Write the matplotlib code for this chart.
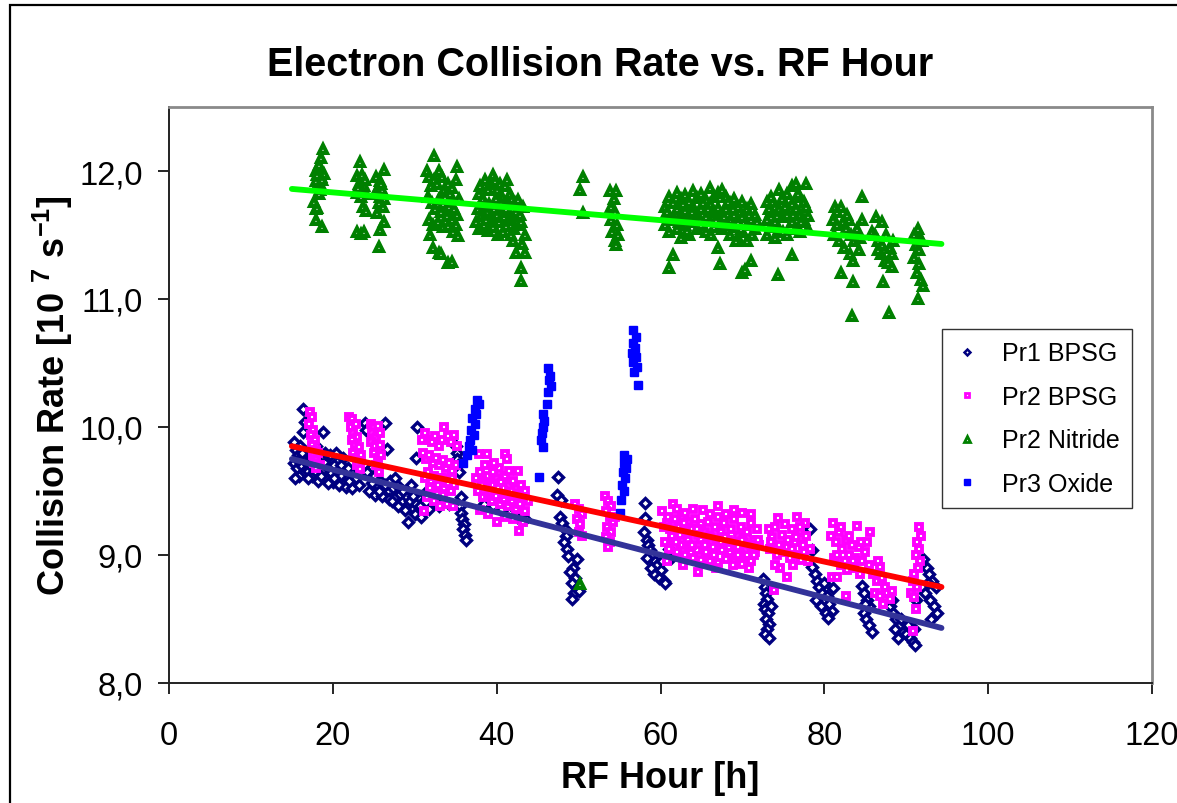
import matplotlib
matplotlib.use("Agg")
import matplotlib.pyplot as plt
from matplotlib.patches import Rectangle
from matplotlib.lines import Line2D
from matplotlib.ticker import FuncFormatter
import numpy as np

plt.rcParams['font.family'] = ['Liberation Sans', 'DejaVu Sans']
plt.rcParams['mathtext.fontset'] = 'custom'
plt.rcParams['mathtext.bf'] = 'Liberation Sans:bold'
plt.rcParams['mathtext.rm'] = 'Liberation Sans:bold'
plt.rcParams['mathtext.default'] = 'bf'

# ---------------- data (RF hour, collision rate [1e7 1/s]) ----------------
pr1_bpsg = [
    (16.4,10.14),(16.6,10.04),(16.4,9.96),(15.2,9.88),(15.5,9.82),(15.8,9.78),(16.0,9.85),(16.3,9.75),
    (16.7,9.80),(15.3,9.72),(15.6,9.68),(16.1,9.70),(16.5,9.65),(15.9,9.62),(15.4,9.60),(16.8,9.72),(17.0,9.66),
    (18.8,9.96),(17.3,9.78),(17.6,9.72),(18.0,9.75),(18.4,9.70),(18.7,9.66),(19.0,9.72),(19.4,9.68),(19.8,9.64),
    (20.2,9.70),(20.6,9.66),(21.0,9.62),(21.4,9.68),(21.8,9.60),(22.2,9.65),(22.6,9.56),(17.5,9.62),(18.2,9.58),
    (19.2,9.60),(20.0,9.57),(20.8,9.55),(21.6,9.53),(22.4,9.52),(19.6,9.78),(20.4,9.80),(21.2,9.76),
    (15.7,9.74),(16.2,9.80),(17.2,9.70),(17.8,9.66),(18.6,9.62),(19.4,9.56),(20.2,9.60),(21.0,9.70),(21.8,9.68),
    (22.0,9.58),(22.8,9.60),(23.2,9.55),(19.0,9.80),(18.0,9.85),(17.0,9.60),
    (23.9,10.03),(26.4,10.03),(24.1,9.98),(26.6,9.83),(23.8,9.70),(24.2,9.65),(24.6,9.60),(25.0,9.62),(25.4,9.55),
    (25.8,9.58),(26.2,9.52),(26.8,9.50),(24.4,9.50),(25.2,9.47),(26.0,9.46),
    (24.8,9.56),(25.6,9.50),(26.4,9.55),(27.6,9.45),(28.4,9.42),(29.0,9.38),(29.8,9.36),(30.4,9.45),(28.0,9.52),(26.9,9.44),
    (27.0,9.58),(27.4,9.52),(27.8,9.55),(28.2,9.48),(28.6,9.50),(29.0,9.45),(29.4,9.42),(29.8,9.46),(30.2,9.40),
    (30.6,9.38),(27.2,9.42),(28.0,9.38),(28.8,9.35),(29.2,9.26),(30.0,9.32),(30.8,9.30),(30.3,10.00),(30.2,9.76),
    (27.6,9.60),(29.6,9.55),
    (31.5,9.50),(32.0,9.45),(32.8,9.48),(33.5,9.42),(34.2,9.40),(31.8,9.36),(33.0,9.38),
    (35.0,9.85),(35.1,9.80),(35.2,9.75),(35.3,9.70),(35.4,9.65),(35.5,9.38),(35.6,9.33),(35.8,9.28),(36.0,9.24),
    (35.9,9.20),(36.1,9.16),(36.3,9.12),(35.7,9.45),
    (38.5,9.40),(39.5,9.38),(40.5,9.35),(41.5,9.33),(42.5,9.30),(43.5,9.28),
    (47.5,9.61),(47.4,9.47),(47.8,9.43),(47.7,9.30),(48.0,9.25),(48.3,9.20),(48.5,9.15),(48.2,9.10),(48.6,9.05),
    (48.7,8.99),(49.8,8.97),(49.3,8.90),(49.0,8.87),(49.6,8.82),(49.2,8.78),(49.8,8.74),(49.5,8.70),(49.2,8.66),(50.0,8.72),
    (58.1,9.41),(58.1,9.29),(58.0,9.18),(58.3,9.12),(58.5,9.08),(58.7,9.04),(59.0,9.00),(59.3,8.95),(58.4,8.98),
    (59.6,8.92),(60.0,8.88),(59.2,8.85),(59.8,8.82),(60.4,8.80),(58.8,8.90),(60.6,8.78),(60.2,8.95),(61.0,9.05),(61.3,8.98),
    (72.5,8.81),(72.7,8.75),(72.9,8.70),(73.0,8.66),(72.6,8.62),(72.8,8.58),(73.1,8.55),(72.9,8.50),(73.2,8.46),
    (73.0,8.42),(72.8,8.38),(73.3,8.35),(73.5,8.60),
    (78.5,8.91),(78.8,8.85),(79.1,8.80),(79.4,8.75),(79.7,8.70),(80.0,8.78),(80.3,8.68),(80.6,8.62),(80.9,8.56),
    (79.0,8.65),(79.6,8.60),(80.2,8.55),(81.0,8.74),(78.3,9.20),(78.5,9.04),(80.5,8.51),
    (84.6,8.76),(84.9,8.70),(85.2,8.65),(85.5,8.60),(84.8,8.55),(85.1,8.50),(85.4,8.45),(85.8,8.40),(85.0,8.62),
    (88.0,8.60),(88.4,8.55),(88.8,8.50),(89.2,8.45),(89.6,8.40),(90.0,8.38),(90.4,8.35),(90.8,8.32),(91.1,8.30),
    (88.6,8.42),(89.4,8.50),(90.2,8.45),(90.9,8.42),(89.0,8.35),(91.2,8.65),(88.2,8.65),
    (92.0,8.97),(92.5,8.90),(92.8,8.85),(93.2,8.80),(93.6,8.75),(92.3,8.70),(92.9,8.65),(93.4,8.60),(93.7,8.55),
    (93.0,8.50),(92.6,8.78),
]

pr2_bpsg = [
    (17.2,10.12),(17.5,10.08),(17.1,10.02),(17.6,9.98),(17.3,9.94),(17.8,9.90),(17.4,9.86),(17.9,9.82),(17.6,9.78),
    (18.0,9.75),(17.7,9.72),(18.2,9.80),(18.4,9.70),(17.9,9.68),
    (22.0,10.08),(22.4,10.06),(22.2,10.00),(22.8,10.02),(22.5,9.95),(23.0,9.92),(22.3,9.90),(22.7,9.86),(23.2,9.84),
    (22.5,9.80),(23.0,9.76),(23.4,9.78),(22.9,9.70),(23.3,9.67),
    (24.6,10.02),(25.0,10.00),(25.5,10.01),(24.8,9.95),(25.3,9.92),(25.8,9.95),(24.7,9.88),(25.2,9.85),(25.7,9.86),
    (25.0,9.80),(25.5,9.76),(25.9,9.78),(25.3,9.70),(25.6,9.65),
    (30.9,9.90),(31.3,9.95),(31.7,9.90),(32.1,9.88),(32.5,9.93),(32.9,9.85),(33.3,9.90),(33.6,10.00),(34.0,9.93),
    (34.4,9.88),(34.8,9.94),(35.1,9.85),(31.0,9.80),(31.4,9.75),(31.8,9.78),(32.2,9.72),(32.6,9.76),(33.0,9.70),
    (33.4,9.74),(33.8,9.68),(34.2,9.72),(34.6,9.66),(35.0,9.70),(31.2,9.60),(31.6,9.65),(32.0,9.58),(32.4,9.62),
    (32.8,9.55),(33.2,9.60),(33.6,9.52),(34.0,9.56),(34.4,9.50),(34.8,9.55),(31.5,9.45),(32.3,9.42),(33.1,9.38),
    (33.9,9.40),(34.7,9.38),(31.1,9.34),(33.5,9.47),(31.9,9.52),(32.7,9.48),(33.7,9.60),(34.5,9.60),
    (37.8,9.79),(38.8,9.79),(41.0,9.79),(41.3,9.75),(37.5,9.60),(38.0,9.65),(38.5,9.58),(39.0,9.62),(39.5,9.55),
    (40.0,9.60),(40.5,9.57),(41.0,9.62),(41.5,9.55),(42.0,9.58),(42.5,9.52),(43.0,9.55),(43.5,9.50),(37.7,9.50),
    (38.3,9.45),(38.9,9.48),(39.4,9.42),(39.9,9.46),(40.4,9.40),(40.9,9.44),(41.4,9.38),(41.9,9.42),(42.4,9.36),
    (42.9,9.40),(43.4,9.34),(43.8,9.42),(38.0,9.35),(39.0,9.32),(40.0,9.26),(41.0,9.30),(42.0,9.28),(42.7,9.19),
    (43.2,9.26),(38.6,9.70),(40.3,9.68),(42.6,9.66),(39.7,9.72),
    (38.2,9.55),(39.2,9.50),(40.2,9.52),(41.2,9.48),(42.2,9.46),(43.2,9.45),(39.5,9.65),(41.5,9.66),
    (49.6,9.40),(50.0,9.36),(50.4,9.32),(49.8,9.28),(50.2,9.24),(50.0,9.18),(50.4,9.15),
    (53.2,9.46),(53.6,9.42),(54.0,9.38),(53.4,9.34),(53.8,9.30),(54.2,9.26),(53.5,9.22),(54.0,9.18),(53.3,9.14),
    (53.8,9.10),(53.6,9.06),(54.5,9.30),
    (61.5,9.40),(60.2,9.34),(60.8,9.25),(61.2,9.20),(61.8,9.28),(62.2,9.22),(62.6,9.30),(63.0,9.18),(63.4,9.26),
    (63.8,9.20),(64.2,9.28),(64.6,9.16),(65.0,9.24),(65.4,9.18),(65.8,9.26),(66.2,9.14),(66.6,9.22),(67.0,9.30),
    (67.4,9.18),(67.8,9.25),(68.2,9.12),(68.6,9.20),(69.0,9.28),(69.4,9.15),(69.8,9.22),(70.2,9.10),(70.6,9.18),
    (71.0,9.25),(71.4,9.12),(71.8,9.20),(72.0,9.08),
    (60.5,9.10),(61.0,9.05),(61.6,9.12),(62.0,9.02),(62.5,9.08),(63.0,9.00),(63.5,9.06),(64.0,8.98),(64.5,9.04),
    (65.0,8.96),(65.5,9.02),(66.0,8.95),(66.5,9.00),(67.0,8.94),(67.5,9.04),(68.0,8.97),(68.5,9.02),(69.0,8.95),
    (69.5,9.00),(70.0,8.93),(70.5,9.00),(71.0,8.95),(71.5,9.02),(60.8,8.95),(62.8,8.92),(64.6,8.87),(66.8,8.90),
    (68.8,8.92),(70.8,8.90),(65.2,9.35),(68.0,9.32),(70.0,9.33),(62.0,9.36),
    (60.4,9.22),(60.9,9.30),(61.4,9.15),(61.9,9.10),(62.4,9.16),(62.9,9.25),(63.4,9.12),(63.9,9.08),(64.4,9.20),
    (64.9,9.12),(65.4,9.08),(65.9,9.15),(66.4,9.06),(66.9,9.12),(67.4,9.10),(67.9,9.14),(68.4,9.06),(68.9,9.10),
    (69.4,9.06),(69.9,9.12),(70.4,9.05),(70.9,9.08),(71.4,9.00),(71.9,9.12),(63.0,9.33),(64.0,9.36),(66.0,9.32),
    (67.0,9.38),(69.0,9.35),(71.0,9.32),
    (74.4,9.29),(76.7,9.30),(73.2,9.20),(73.6,9.14),(74.0,9.22),(74.8,9.16),(75.2,9.24),(75.6,9.12),(76.0,9.20),
    (76.4,9.10),(77.0,9.18),(77.4,9.08),(77.8,9.15),(78.2,9.05),(73.4,9.05),(74.2,9.00),(75.0,9.02),(75.8,8.98),
    (76.6,9.00),(77.2,8.96),(78.0,8.95),(75.5,8.83),(73.8,8.73),(74.6,8.90),(76.2,8.92),(77.6,9.25),
    (73.5,9.10),(74.5,9.08),(75.5,9.06),(76.5,9.14),(77.5,9.02),(74.0,8.92),(76.0,9.05),(77.0,9.22),
    (81.0,9.25),(84.0,9.23),(85.6,9.18),(80.8,9.15),(81.4,9.10),(81.8,9.18),(82.2,9.05),(82.6,9.12),(83.0,9.00),
    (83.4,9.08),(83.8,8.98),(84.2,9.06),(84.6,8.95),(85.0,9.02),(85.4,8.92),(81.2,8.98),(82.0,8.92),(82.8,8.88),
    (83.6,8.90),(80.9,8.83),(81.5,8.83),(82.7,8.68),(84.4,8.85),(85.2,9.10),
    (81.5,9.00),(82.5,8.95),(83.5,8.95),(84.5,9.10),(83.0,9.15),(82.0,9.22),
    (86.8,8.91),(86.0,8.85),(86.4,8.80),(87.0,8.82),(87.4,8.75),(86.2,8.70),(86.8,8.68),(87.6,8.70),(88.0,8.66),
    (87.2,8.62),(88.3,8.72),(86.5,8.95),
    (91.5,9.22),(91.8,9.15),(91.3,9.10),(91.6,9.05),(91.2,9.00),(91.7,8.95),(91.4,8.90),(91.0,8.85),(90.8,8.80),
    (91.3,8.75),(90.6,8.70),(91.0,8.67),(91.2,8.58),(90.8,8.41),
]

pr2_nitride = [
    (17.7,11.76),(17.9,11.70),(18.0,11.62),(18.1,11.71),(18.7,11.56),(18.0,12.00),(18.3,12.05),(18.8,12.17),
    (18.5,11.95),(18.2,11.90),(18.6,11.88),(18.0,11.92),(18.9,11.98),(18.4,11.85),(18.1,11.97),(18.7,11.93),
    (18.3,11.82),(18.6,12.10),
    (23.3,12.07),(22.9,11.96),(23.6,11.97),(23.2,11.90),(23.8,11.88),(23.5,11.85),(24.0,11.82),(23.0,11.83),
    (23.4,11.80),(23.7,11.72),(24.0,11.69),(22.9,11.52),(23.4,11.51),(23.8,11.52),(23.1,11.87),(23.9,11.93),
    (26.2,12.01),(25.3,11.95),(25.7,11.92),(25.5,11.87),(26.0,11.85),(25.2,11.82),(25.8,11.80),(26.3,11.78),
    (25.6,11.75),(26.1,11.72),(25.4,11.67),(26.2,11.60),(25.8,11.54),(25.6,11.41),(25.9,11.90),
    (32.4,12.12),(31.5,12.00),(31.8,11.95),(32.0,11.88),(32.3,11.93),(32.7,11.90),(33.0,12.00),(33.3,11.95),
    (33.6,11.85),(34.0,11.90),(34.3,11.82),(34.6,11.87),(35.0,11.93),(35.2,12.03),(31.6,11.80),(32.1,11.75),
    (32.5,11.70),(32.9,11.78),(33.2,11.68),(33.5,11.74),(33.9,11.65),(34.2,11.72),(34.5,11.62),(34.8,11.70),
    (35.1,11.66),(35.4,11.78),(31.7,11.62),(32.2,11.58),(32.8,11.60),(33.4,11.56),(34.1,11.57),(34.7,11.52),
    (35.3,11.49),(32.2,11.40),(33.0,11.36),(33.2,11.35),(34.1,11.28),(34.5,11.29),(31.9,11.50),(33.7,11.80),(35.0,11.58),
    (37.8,11.82),(38.0,11.88),(38.3,11.78),(38.6,11.93),(38.9,11.85),(39.2,11.90),(39.5,11.97),(39.8,11.92),
    (40.1,11.85),(40.4,11.90),(40.7,11.80),(41.0,11.88),(41.3,11.93),(41.6,11.82),(41.9,11.78),(42.2,11.75),
    (42.6,11.77),(43.2,11.72),(37.7,11.70),(38.1,11.65),(38.5,11.72),(38.8,11.68),(39.1,11.74),(39.4,11.63),
    (39.7,11.70),(40.0,11.66),(40.3,11.60),(40.6,11.72),(40.9,11.64),(41.2,11.57),(41.5,11.68),(41.8,11.62),
    (42.1,11.55),(42.4,11.65),(42.7,11.58),(43.0,11.60),(43.4,11.50),(37.9,11.55),(38.4,11.58),(39.0,11.53),
    (39.6,11.56),(40.2,11.50),(40.8,11.52),(42.0,11.45),(43.1,11.43),(42.4,11.36),(43.5,11.36),(43.0,11.24),
    (43.0,11.14),(37.5,11.60),
    (38.7,11.62),(39.9,11.78),(40.5,11.75),(41.1,11.70),(42.3,11.68),(42.9,11.66),(41.7,11.50),
    (50.5,11.95),(50.2,11.85),(50.5,11.67),
    (53.8,11.84),(54.6,11.84),(54.3,11.78),(54.0,11.72),(54.5,11.68),(53.9,11.62),(54.7,11.58),(54.1,11.52),
    (54.8,11.50),(54.4,11.45),(54.6,11.42),
    (60.5,11.72),(60.5,11.58),(61.0,11.80),(61.0,11.65),(61.0,11.52),(61.0,11.24),(61.5,11.75),(61.5,11.62),
    (61.5,11.34),(62.0,11.83),(62.0,11.70),(62.0,11.55),(62.5,11.78),(62.5,11.66),(62.5,11.48),(63.0,11.81),
    (63.0,11.69),(63.0,11.58),(63.5,11.76),(63.5,11.62),(63.5,11.50),(64.0,11.84),(64.0,11.72),(64.0,11.60),
    (64.5,11.79),(64.5,11.66),(64.5,11.55),(65.0,11.82),(65.0,11.70),(65.0,11.58),(65.5,11.77),(65.5,11.64),
    (65.5,11.52),(66.0,11.87),(66.0,11.74),(66.0,11.61),(66.5,11.80),(66.5,11.68),(66.5,11.56),(67.0,11.83),
    (67.0,11.71),(67.0,11.60),(67.0,11.40),(67.3,11.27),(67.5,11.85),(67.5,11.66),(67.5,11.55),(68.0,11.80),
    (68.0,11.70),(68.0,11.58),(68.5,11.75),(68.5,11.62),(68.5,11.50),(69.0,11.78),(69.0,11.66),(69.0,11.56),
    (69.5,11.72),(69.5,11.60),(69.5,11.48),(70.0,11.76),(70.0,11.64),(70.0,11.52),(70.0,11.20),(70.3,11.23),
    (70.5,11.70),(70.5,11.58),(70.5,11.45),(71.0,11.74),(71.0,11.62),(71.0,11.30),(71.5,11.66),(71.5,11.55),
    (73.0,11.76),(73.0,11.62),(73.0,11.50),(73.5,11.80),(73.5,11.68),(73.5,11.56),(74.0,11.72),(74.0,11.60),
    (74.0,11.48),(74.4,11.19),(74.5,11.85),(74.5,11.70),(74.5,11.55),(75.0,11.78),(75.0,11.64),(75.0,11.52),
    (75.5,11.82),(75.5,11.66),(75.5,11.50),(76.0,11.88),(76.0,11.74),(76.0,11.60),(76.0,11.34),(76.5,11.90),
    (76.5,11.70),(76.5,11.55),(77.0,11.80),(77.0,11.66),(77.0,11.52),(77.5,11.76),(77.5,11.62),(77.8,11.90),
    (77.8,11.72),(78.0,11.65),(78.0,11.55),
    (60.8,11.68),(61.8,11.62),(62.8,11.74),(63.8,11.68),(64.8,11.62),(65.8,11.70),(66.8,11.62),(67.8,11.64),
    (68.8,11.70),(69.8,11.55),(70.8,11.66),(71.2,11.50),(73.2,11.70),(74.2,11.65),(75.2,11.72),(76.2,11.66),
    (77.2,11.60),(76.8,11.82),(74.8,11.78),(62.2,11.60),(65.2,11.75),(68.2,11.76),(71.8,11.60),(63.2,11.53),
    (66.2,11.50),(69.2,11.45),
    (81.0,11.62),(81.3,11.72),(81.6,11.68),(82.0,11.72),(82.3,11.60),(82.6,11.55),(83.0,11.62),(83.3,11.50),
    (83.6,11.45),(84.0,11.55),(84.3,11.48),(84.6,11.80),(84.6,11.62),(81.2,11.50),(81.8,11.45),(82.4,11.40),
    (83.1,11.35),(83.5,11.30),(82.0,11.20),(83.5,11.13),(83.4,10.87),(82.8,11.66),(81.5,11.58),(84.2,11.38),
    (86.3,11.64),(87.0,11.60),(85.8,11.52),(86.2,11.50),(86.6,11.45),(87.1,11.42),(87.5,11.50),(88.0,11.40),
    (88.3,11.35),(86.9,11.35),(87.4,11.30),(87.8,11.28),(88.2,11.25),(86.5,11.38),(87.2,11.13),(87.9,10.89),(88.4,11.45),
    (91.4,11.55),(91.0,11.50),(91.7,11.48),(91.2,11.42),(91.6,11.38),(90.9,11.32),(91.5,11.27),(91.3,11.20),
    (91.8,11.15),(92.0,11.10),(91.4,11.00),(91.9,11.45),
    (50.2,8.77),
]

pr3_oxide = [
    (37.6,10.21),(37.9,10.18),(37.3,10.14),(37.5,10.10),(37.0,10.07),(37.3,10.02),(36.9,9.98),(37.2,9.94),
    (36.8,9.90),(36.6,9.85),(37.0,9.82),(36.4,9.78),(35.9,9.72),
    (46.3,10.46),(46.5,10.40),(46.4,10.37),(46.6,10.32),(46.3,10.27),(46.1,10.18),(45.6,10.10),(45.8,10.05),
    (45.6,10.00),(45.5,9.95),(45.4,9.90),(45.7,9.84),(45.2,9.61),
    (55.6,9.78),(55.9,9.75),(55.5,9.72),(55.8,9.68),(55.4,9.65),(55.7,9.60),(55.3,9.55),(55.6,9.50),(55.2,9.43),(55.1,9.33),
    (56.7,10.76),(57.0,10.70),(56.6,10.66),(56.9,10.62),(56.5,10.58),(57.0,10.55),(56.7,10.51),(57.1,10.47),
    (56.8,10.43),(57.2,10.33),
]

# linear trend lines (end points)
trend_hours = [15.0, 94.3]
pr1_trend = [9.75, 8.43]
pr2_trend = [9.85, 8.75]
nitride_trend = [11.86, 11.43]

series_names = ["Pr1 BPSG", "Pr2 BPSG", "Pr2 Nitride", "Pr3 Oxide"]
x_ticks = [0, 20, 40, 60, 80, 100, 120]
y_ticks = [8.0, 9.0, 10.0, 11.0, 12.0]

# ---------------- figure ----------------
W, H = 1177, 804
fig = plt.figure(figsize=(W / 100, H / 100), dpi=100)
fig.patch.set_facecolor("white")

# outer chart border
fig.add_artist(Rectangle((10 / W, -0.05), 1.2, 1 - 6 / H + 0.05, transform=fig.transFigure,
                         fill=False, edgecolor="black", linewidth=1.6))

ax = fig.add_axes([169 / W, 1 - 684 / H, 983 / W, 576 / H])

styles = [
    dict(marker="D", ms=4.6, mfc="white", mec="#000080", mew=2.4),
    dict(marker="s", ms=4.8, mfc="white", mec="#FF00FF", mew=2.8),
    dict(marker="^", ms=5.6, mfc="white", mec="#008000", mew=2.9),
    dict(marker="s", ms=6.0, mfc="#0000FF", mec="#0000FF", mew=1.0),
]
legend_styles = [
    dict(marker="D", ms=3.0, mfc="white", mec="#000080", mew=1.8),
    dict(marker="s", ms=3.4, mfc="white", mec="#FF00FF", mew=2.0),
    dict(marker="^", ms=3.8, mfc="white", mec="#008000", mew=2.0),
    dict(marker="s", ms=5.0, mfc="#0000FF", mec="#0000FF", mew=1.0),
]
datasets = [pr1_bpsg, pr2_bpsg, pr2_nitride, pr3_oxide]
handles = []
for i, (data, st, lst, name) in enumerate(zip(datasets, styles, legend_styles, series_names)):
    arr = np.array(data)
    ax.plot(arr[:, 0], arr[:, 1], linestyle="none", zorder=2 + i, **st)
    handles.append(Line2D([], [], linestyle="none", label=name, **lst))

ax.plot(trend_hours, pr1_trend, color="#333399", lw=4.2, solid_capstyle="round", zorder=10)
ax.plot(trend_hours, pr2_trend, color="#FF0000", lw=4.2, solid_capstyle="round", zorder=10)
ax.plot(trend_hours, nitride_trend, color="#00FF00", lw=4.2, solid_capstyle="round", zorder=10)

ax.set_xlim(0, 120)
ax.set_ylim(8.0, 12.5)
ax.set_xticks(x_ticks)
ax.set_yticks(y_ticks)
ax.yaxis.set_major_formatter(FuncFormatter(lambda v, p: f"{v:.1f}".replace(".", ",")))
ax.xaxis.set_major_formatter(FuncFormatter(lambda v, p: f"{v:.0f}"))
ax.tick_params(axis="both", direction="out", length=8, width=1.2, color="black",
               labelsize=23.5)
ax.tick_params(axis="y", pad=11)
ax.tick_params(axis="x", pad=19)

for side in ["left", "bottom"]:
    ax.spines[side].set_color("#222222")
    ax.spines[side].set_linewidth(1.4)
for side in ["top", "right"]:
    ax.spines[side].set_color("#8a8a8a")
    ax.spines[side].set_linewidth(2.0)

ax.set_xlabel("RF Hour [h]", fontsize=26, fontweight="bold", labelpad=6)
ax.set_ylabel(r"Collision Rate [10 $^{7}$ s$^{-1}$]", fontsize=26, fontweight="bold", labelpad=3)

fig.text(600 / W, 1 - 65 / H, "Electron Collision Rate vs. RF Hour", ha="center", va="center",
         fontsize=28.5, fontweight="bold")

leg = ax.legend(handles=handles, loc="upper left", bbox_to_anchor=(0.786, 0.615),
                borderaxespad=0, fontsize=18, frameon=True, fancybox=False,
                edgecolor="black", labelspacing=0.78, handletextpad=0.9,
                handlelength=1.0, borderpad=0.5)
leg.get_frame().set_linewidth(1.0)
leg.set_zorder(20)

fig.savefig("out.png", dpi=100, facecolor="white")
